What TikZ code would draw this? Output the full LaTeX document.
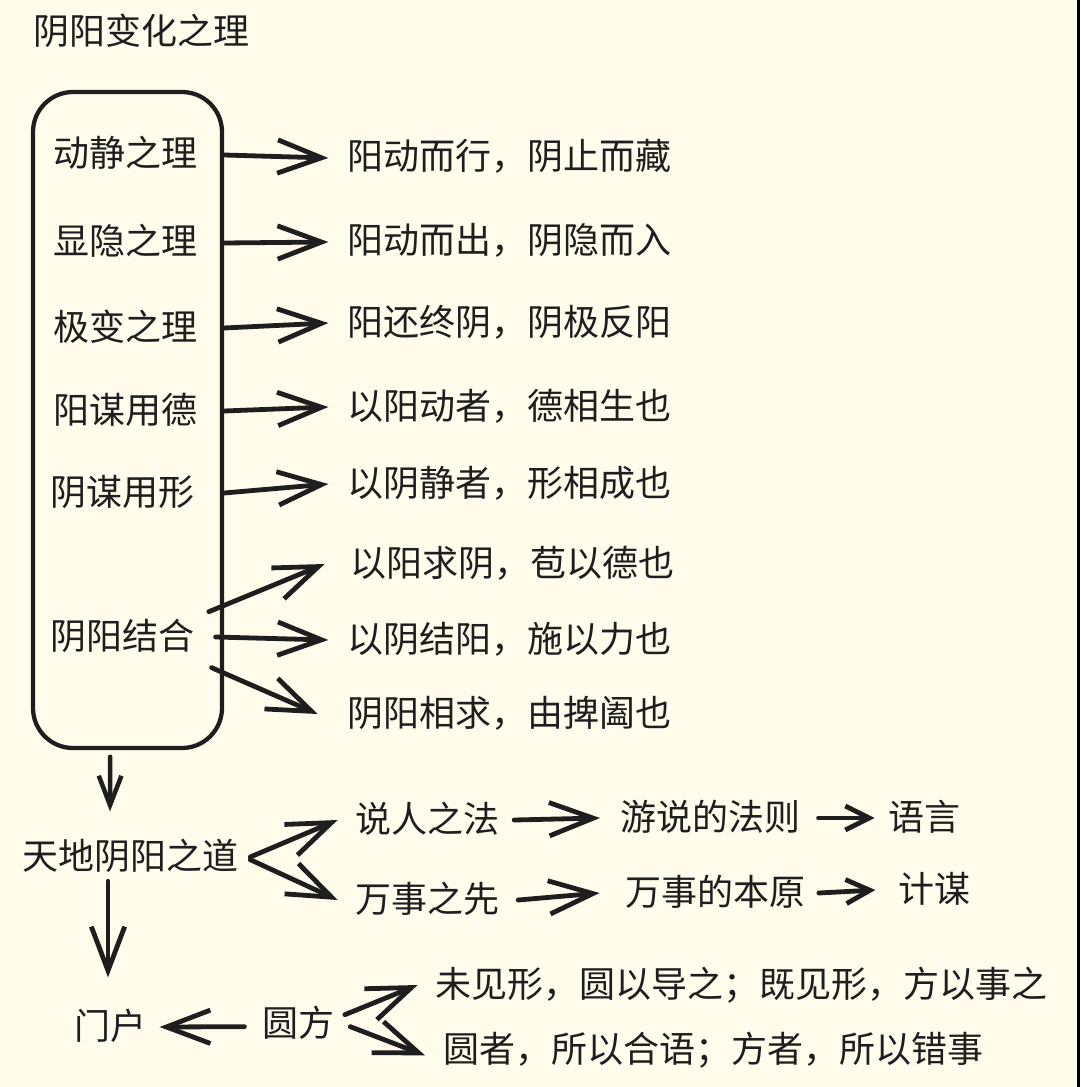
\documentclass[tikz,border=0pt]{standalone}
\usepackage{fontspec}
\newfontfamily\cjk{Noto Sans CJK SC}
\usetikzlibrary{arrows.meta}
\definecolor{bgc}{HTML}{FFFCEC}
\definecolor{ink}{HTML}{1E1E1E}
\begin{document}
\begin{tikzpicture}[x=0.75pt,y=-0.75pt,
  lbl/.style={inner sep=0pt, text height=23pt, text depth=5pt, font=\cjk\fontsize{27}{30}\selectfont, text=ink},
  arr/.style={draw=ink, line width=3.6pt, line cap=round, -{Straight Barb[length=33pt,width=25pt,line width=3.6pt]}},
  sarr/.style={draw=ink, line width=3.6pt, line cap=round, -{Straight Barb[length=18pt,width=18pt,line width=3.6pt]}},
  darr/.style={draw=ink, line width=3.4pt, line cap=round, -{Straight Barb[length=22pt,width=17pt,line width=3.4pt]}}]
\fill[bgc] (0,0) rectangle (1080,1087);
\useasboundingbox (0,0) rectangle (1080,1087);
\fill[black] (1077,0) rectangle (1080,1087);

% title
\node[lbl, anchor=west] (title) at (33,33) {阴阳变化之理};

% box
\node[draw=ink, line width=3.2pt, rounded corners=30pt, minimum width=141.75pt, minimum height=492pt, inner sep=0pt] (box) at (127.5,420) {};

\node[lbl] (l1) at (125,155) {动静之理};
\node[lbl] (l2) at (125,243) {显隐之理};
\node[lbl] (l3) at (125,328) {极变之理};
\node[lbl] (l4) at (125,411) {阳谋用德};
\node[lbl] (l5) at (122,493) {阴谋用形};
\node[lbl] (l6) at (122,637) {阴阳结合};

\node[lbl, anchor=west] (r1) at (347,158) {阳动而行，阴止而藏};
\node[lbl, anchor=west] (r2) at (347,242) {阳动而出，阴隐而入};
\node[lbl, anchor=west] (r3) at (347,323) {阳还终阴，阴极反阳};
\node[lbl, anchor=west] (r4) at (347,407) {以阳动者，德相生也};
\node[lbl, anchor=west] (r5) at (347,484) {以阴静者，形相成也};
\node[lbl, anchor=west] (r6) at (350,564) {以阳求阴，苞以德也};
\node[lbl, anchor=west] (r7) at (347,640) {以阴结阳，施以力也};
\node[lbl, anchor=west] (r8) at (347,714) {阴阳相求，由捭阖也};

\draw[arr] (l1 -| box.east) -- ([xshift=-14pt]r1.west);
\draw[arr] (l2 -| box.east) -- ([xshift=-14pt]r2.west);
\draw[arr] (l3 -| box.east) -- ([xshift=-14pt]r3.west);
\draw[arr] (l4 -| box.east) -- ([xshift=-14pt]r4.west);
\draw[arr] (l5 -| box.east) -- ([xshift=-14pt]r5.west);
\draw[arr] ([xshift=11pt,yshift=19pt]l6.east) -- ([xshift=-19pt]r6.west);
\draw[arr] ([xshift=16pt]l6.east) -- ([xshift=-14pt]r7.west);
\draw[arr] ([xshift=13pt,yshift=-23pt]l6.east) -- ([xshift=-22pt]r8.west);

% lower part
\node[lbl] (t) at (130,857) {天地阴阳之道};
\draw[darr] ([xshift=-13pt,yshift=-5pt]box.south) -- ([xshift=-15pt,yshift=20pt]t.north);

\node[lbl, anchor=west] (s1) at (355,820) {说人之法};
\node[lbl, anchor=west] (s2) at (355,900) {万事之先};
\draw[arr] ([xshift=9pt]t.east) -- ([xshift=-13pt]s1.west);
\draw[arr] ([xshift=9pt,yshift=-2pt]t.east) -- ([xshift=-13pt]s2.west);

\node[lbl, anchor=west] (f1) at (620,818) {游说的法则};
\node[lbl, anchor=west] (f2) at (625,893) {万事的本原};
\node[lbl, anchor=west] (g1) at (888,818) {语言};
\node[lbl, anchor=west] (g2) at (898,890) {计谋};
\draw[arr] ([xshift=11pt]s1.east) -- ([xshift=-15pt]f1.west);
\draw[arr] ([xshift=14pt]s2.east) -- ([xshift=-19pt]f2.west);
\draw[sarr] ([xshift=13.5pt]f1.east) -- ([xshift=-10pt]g1.west);
\draw[sarr] ([xshift=10pt]f2.east) -- ([xshift=-17pt]g2.west);

\node[lbl] (m) at (110,1027) {门户};
\node[lbl] (y) at (298,1024) {圆方};
\draw[arr] ([xshift=-16.5pt,yshift=-4pt]t.south) -- ([xshift=-1.5pt,yshift=23pt]m.north);
\draw[arr] ([xshift=-13pt,yshift=-2pt]y.west) -- ([xshift=10pt]m.east);

\node[lbl, anchor=west] (u1) at (435,985) {未见形，圆以导之；既见形，方以事之};
\node[lbl, anchor=west] (u2) at (443,1050) {圆者，所以合语；方者，所以错事};
\draw[arr] ([xshift=8pt,yshift=7pt]y.east) -- ([xshift=-13pt]u1.west);
\draw[arr] ([xshift=12pt,yshift=-2pt]y.east) -- ([xshift=-13.5pt,yshift=-4pt]u2.west);
\end{tikzpicture}
\end{document}
